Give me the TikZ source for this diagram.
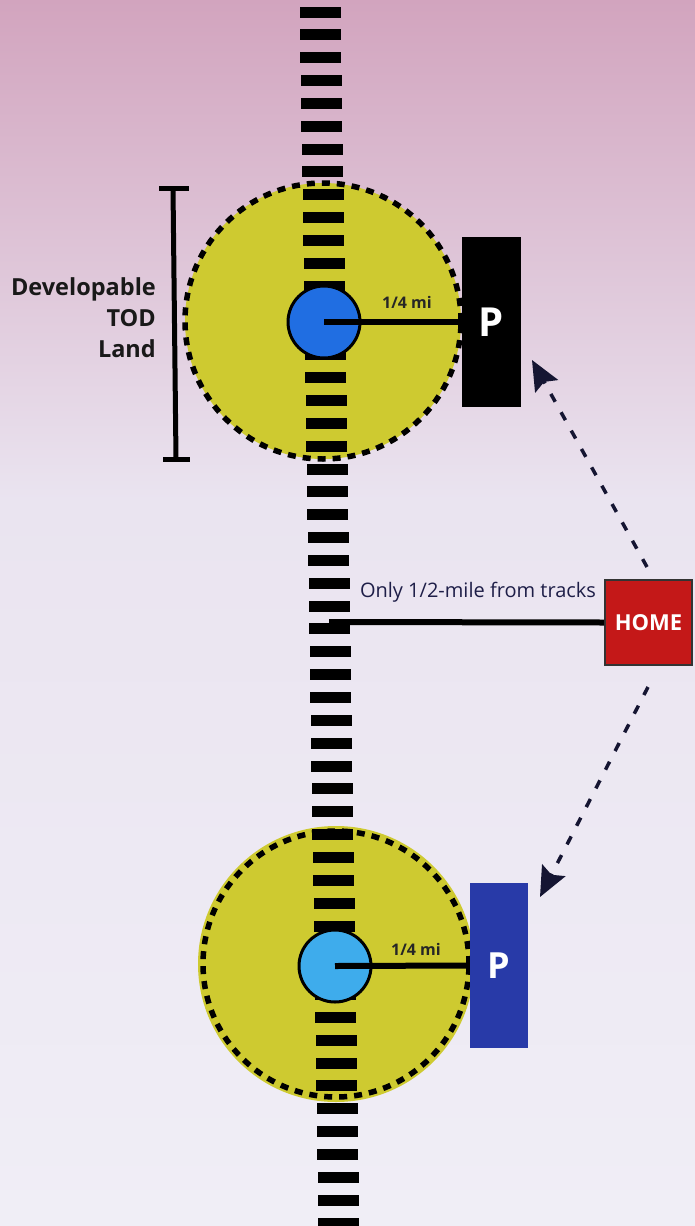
\documentclass[tikz,border=0pt]{standalone}
\usepackage{fontspec}
\setmainfont{Open Sans}
\usetikzlibrary{arrows.meta}
\definecolor{bgtop}{RGB}{210,164,190}
\definecolor{bgmid}{RGB}{234,228,240}
\definecolor{bgbot}{RGB}{240,238,246}
\definecolor{zoneyellow}{RGB}{206,202,48}
\definecolor{stationblue}{RGB}{32,110,226}
\definecolor{stationlight}{RGB}{62,172,236}
\definecolor{parkblue}{RGB}{40,58,168}
\definecolor{homered}{RGB}{196,24,24}
\definecolor{navytext}{RGB}{30,30,72}
\tikzset{
  zone/.style={circle, fill=zoneyellow, minimum size=276pt, inner sep=0pt},
  zoneedge/.style={draw=black, line width=5.5pt, dash pattern=on 8pt off 7pt},
  station/.style={circle, draw=black, line width=3pt, minimum size=72pt, inner sep=0pt},
  parkbox/.style={rectangle, inner sep=0pt, text=white, font=\fontsize{40}{40}\selectfont\bfseries},
  radius/.style={line width=6pt, draw=black},
  smalllabel/.style={font=\fontsize{16}{16}\selectfont\bfseries, text=black!85, inner sep=0pt},
  walk/.style={draw=navytext!70!black, line width=3.5pt, dash pattern=on 9pt off 12pt,
    -{Stealth[length=30pt,width=26pt,inset=5pt]}},
  tie/.style={fill=black},
}
\begin{document}
\begin{tikzpicture}[x=1pt,y=-1pt]
\useasboundingbox (0,0) rectangle (695,1226);
\shade[top color=bgtop, bottom color=bgmid] (0,0) rectangle (695,500);
\shade[top color=bgmid, bottom color=bgbot] (0,499.5) rectangle (695,1226);

% catchment zones (fill)
\node[zone] (zone1) at (323,321) {};
\node[zone] (zone2) at (336,964) {};

% railway ties
\foreach \k in {0,...,53} {
  \pgfmathsetmacro\yy{12+22.85*\k}
  \pgfmathsetmacro\xx{320+0.0155*\yy}
  \fill[tie] (\xx-20.5,\yy-5.5) rectangle (\xx+20.5,\yy+5.5);
}

% zone outlines
\draw[zoneedge] (zone1.center) circle (138pt);
\draw[zoneedge] (zone2.center) circle (133pt);

% parking
\node[parkbox, fill=black, minimum width=59pt, minimum height=170pt] (park1) at (491.5,322) {P};
\node[parkbox, fill=parkblue, minimum width=58pt, minimum height=165pt, font=\fontsize{36}{36}\selectfont\bfseries] (park2) at (499,965.5) {P};

% stations
\node[station, fill=stationblue] (station1) at (324,322) {};
\node[station, fill=stationlight] (station2) at (335,966) {};

% radius lines
\draw[radius] (station1.center) -- (park1.west);
\draw[radius] (station2.center) -- (park2.west);
\node[smalllabel] (r1) at (407,302) {1/4 mi};
\node[smalllabel] (r2) at (416,949) {1/4 mi};

% dimension bar
\coordinate (dimtop) at (173,188);
\coordinate (dimbot) at (176,459);
\draw[line width=5pt] (dimtop) -- (dimbot);
\draw[line width=5pt] (159,188) -- (189,188);
\draw[line width=5pt] (163,459) -- (190,459);
\node[align=right, anchor=east, font=\fontsize{23.5}{31}\selectfont\bfseries, text=black!90, inner sep=0pt] (devlabel) at (156,318) {Developable\\TOD\\Land};

% home
\node[rectangle, fill=homered, draw=black!80, line width=2pt, minimum width=87pt, minimum height=85pt, text=white, font=\fontsize{22}{22}\selectfont\bfseries] (home) at (648.5,622.5) {HOME};
\coordinate (trackmid) at (329,622);
\draw[line width=6pt] (trackmid) -- (home.west);
\node[font=\fontsize{20}{20}\selectfont, text=navytext, inner sep=0pt] (distlabel) at (478,592) {Only 1/2-mile from tracks};

% walking arrows
\coordinate (w1s) at (647,567);
\coordinate (w1e) at (532,360);
\coordinate (w2s) at (648,687);
\coordinate (w2e) at (540,897);
\draw[walk] (w1s) -- (w1e);
\draw[walk] (w2s) -- (w2e);
\end{tikzpicture}
\end{document}
